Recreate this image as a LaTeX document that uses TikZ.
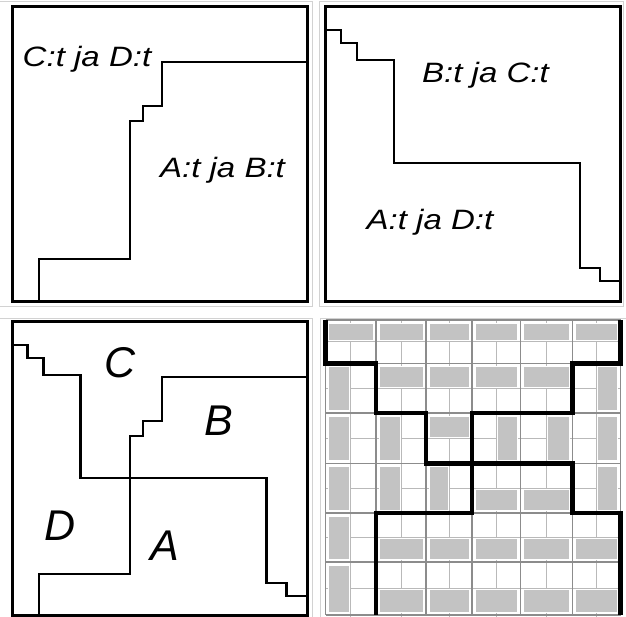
\documentclass[tikz,border=0pt]{standalone}
\usepackage{graphicx}
\usepackage{fontspec}
\setmainfont{Liberation Sans}
\usepackage{tikz}
\usetikzlibrary{positioning,calc}

\def\colxs{{325.5,376,426,472,520.5,572.5,620.5}}
\def\rowys{{320,363.5,413,463.5,513,562,615}}

\begin{document}
\begin{tikzpicture}[
		x = 1pt, y = -1pt,
		panel/.style = {line width = 3pt},
		edge/.style = {gray!35, line width = 0.8pt},
		stair/.style = {line width = 2.3pt},
		cutline/.style = {line width = 4.5pt},
		bigline/.style = {gray!90, line width = 1.8pt},
		subline/.style = {gray!55, line width = 0.8pt},
		domino/.style = {fill = gray!47, draw = white, line width = 0.8pt},
		pairtext/.style = {anchor = base, font = \fontsize{28}{30}\selectfont\itshape},
		letter/.style = {anchor = base, font = \fontsize{43}{45}\selectfont\itshape}
		]
\useasboundingbox (0,0) rectangle (626,617);

% light borders of the four pieces
\draw[edge] (-1,1) rectangle (312.7,306);
\draw[edge] (319,1) rectangle (623,306);
\draw[edge] (-1,318) rectangle (312.7,618);
\draw[edge] (320,318) rectangle (627,618);

% top left
\draw[panel] (12.7,6.7) rectangle (307,302);
\draw[stair] (39,302) -- (39,259) -- (130,259) -- (130,121) -- (143,121) -- (143,106) -- (162,106) -- (162,62) -- (307,62);
\node[pairtext] (cd) at (87,66.7) {\scalebox{1.18}[1]{C:t ja D:t}};
\node[pairtext] (ab) at (222.5,178) {\scalebox{1.18}[1]{A:t ja B:t}};

% top right
\draw[panel] (325.7,6.7) rectangle (620,302);
\draw[stair] (326,30) -- (341,30) -- (341,43) -- (357,43) -- (357,60) -- (394,60) -- (394,163) -- (580,163) -- (580,268) -- (600,268) -- (600,281) -- (620,281);
\node[pairtext] (bc) at (485.5,83) {\scalebox{1.18}[1]{B:t ja C:t}};
\node[pairtext] (ad) at (430,230) {\scalebox{1.18}[1]{A:t ja D:t}};

% bottom left
\draw[panel] (12.7,321.7) rectangle (307,615);
\draw[stair] (39,617) -- (39,574) -- (130,574) -- (130,436) -- (143,436) -- (143,421) -- (162,421) -- (162,377) -- (307,377);
\draw[stair] (12.5,345) -- (27.5,345) -- (27.5,358) -- (43.5,358) -- (43.5,375) -- (80.5,375) -- (80.5,478) -- (266.5,478) -- (266.5,583) -- (286.5,583) -- (286.5,596) -- (307,596);
\node[letter] (C) at (120,377) {C};
\node[letter] (B) at (219,435) {B};
\node[letter] (D) at (60,540) {D};
\node[letter] (A) at (165,560) {A};

% bottom right: grid
\foreach \c in {0,...,6}
	\foreach \r in {0,...,6}{
		\pgfmathsetmacro{\gx}{\colxs[\c]}
		\pgfmathsetmacro{\gy}{\rowys[\r]}
		\coordinate (g-\c-\r) at (\gx,\gy);
	}
\foreach \c [evaluate = \c as \cn using int(\c+1)] in {0,...,5}{
	\draw[subline] ($(g-\c-0)!0.5!(g-\cn-0)$) -- ($(g-\c-6)!0.5!(g-\cn-6)+(0,2)$);
	\draw[subline] ($(g-0-\c)!0.5!(g-0-\cn)$) -- ($(g-6-\c)!0.5!(g-6-\cn)$);
}
\foreach \i/\r/\k [evaluate = \i as \j using int(\i+1), evaluate = \r as \rn using int(\r+1)] in
		{0/0/T, 1/0/T, 2/0/T, 3/0/T, 4/0/T, 5/0/T,
		 0/1/L, 1/1/T, 2/1/T, 3/1/T, 4/1/T, 5/1/R,
		 0/2/L, 1/2/L, 2/2/T, 3/2/R, 4/2/R, 5/2/R,
		 0/3/L, 1/3/L, 2/3/L, 3/3/B, 4/3/B, 5/3/R,
		 0/4/L, 1/4/B, 2/4/B, 3/4/B, 4/4/B, 5/4/B,
		 0/5/L, 1/5/B, 2/5/B, 3/5/B, 4/5/B, 5/5/B}{
	\coordinate (tl) at ($(g-\i-\r)+(3,3)$);
	\coordinate (br) at ($(g-\j-\rn)+(-3,-3)$);
	\coordinate (cm) at ($(g-\i-\r)!0.5!(g-\j-\rn)$);
	\if\k T\draw[domino] (tl) rectangle ($(br |- cm)+(0,-1)$);\fi
	\if\k B\draw[domino] ($(tl |- cm)+(0,1)$) rectangle (br);\fi
	\if\k L\draw[domino] (tl) rectangle ($(cm |- br)+(-1,0)$);\fi
	\if\k R\draw[domino] ($(cm |- tl)+(1,0)$) rectangle (br);\fi
}
\foreach \c in {0,...,6}
	\draw[bigline] (g-\c-0) -- (g-\c-6);
\foreach \r in {0,...,6}
	\draw[bigline] (g-0-\r) -- (g-6-\r);
\draw[cutline] (g-0-0) -- (g-0-1) -- (g-1-1) -- (g-1-2) -- (g-2-2) -- (g-2-3) -- (g-5-3) -- (g-5-4) -- (g-6-4) -- (g-6-6);
\draw[cutline] (g-6-0) -- (g-6-1) -- (g-5-1) -- (g-5-2) -- (g-3-2) -- (g-3-4) -- (g-1-4) -- (g-1-6);

\end{tikzpicture}
\end{document}
